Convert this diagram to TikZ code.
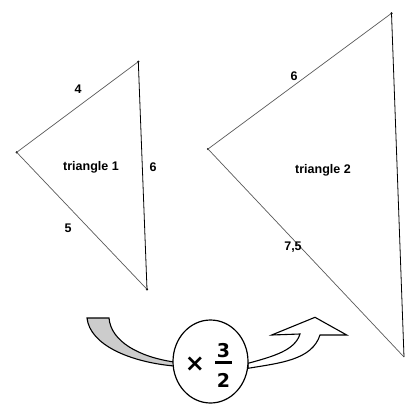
\documentclass[tikz,border=0pt]{standalone}
\usepackage{fontspec}
\usetikzlibrary{shapes.geometric}
\setmainfont{Liberation Sans}
\newfontfamily\djv{DejaVu Sans}
\begin{document}
\begin{tikzpicture}[x=1pt,y=-1pt,
  lbl/.style={inner sep=0pt,font=\fontsize{12.5}{14}\selectfont\bfseries},
  edgeg/.style={draw=black!65,line width=0.7pt},
  edgek/.style={draw=black,line width=0.8pt},
  vdot/.style={circle,fill=black,inner sep=0pt,minimum size=2.4pt},
  mathtxt/.style={inner sep=0pt,font=\djv\fontsize{19}{20}\selectfont\bfseries},
  band/.style={draw=black,line width=1.1pt,line join=miter}]
\useasboundingbox (0,0) rectangle (405,405);
% triangle 1
\node[vdot] (a1) at (138.3,61.7) {};
\node[vdot] (b1) at (16.7,152.3) {};
\node[vdot] (c1) at (147,289.3) {};
\draw[edgeg] (b1.center) -- (a1.center);
\draw[edgeg] (b1.center) -- (c1.center);
\draw[edgek] (a1.center) -- (c1.center);
\node[lbl] (l4) at (78,89) {4};
\node[lbl] (l6a) at (153,167) {6};
\node[lbl] (l5) at (68,228) {5};
\node[lbl] (t1) at (91,167) {triangle 1};
% triangle 2
\node[vdot] (a2) at (391.5,13.3) {};
\node[vdot] (b2) at (208,149) {};
\coordinate (c2) at (404,357);
\draw[edgeg] (b2.center) -- (a2.center);
\draw[edgeg] (b2.center) -- (c2);
\draw[edgek] (a2.center) -- (c2);
\node[lbl] (l6b) at (294,76) {6};
\node[lbl] (l75) at (293,247) {7,5};
\node[lbl] (t2) at (323,170) {triangle 2};
% left gray band arrow
\draw[band,fill=black!20] (87,318) -- (109,318)
  .. controls (111,342) and (140,357) .. (174,362)
  -- (174,366)
  .. controls (130,362) and (90,345) .. (87,318) -- cycle;
% right white arrow
\draw[band,fill=white] (248,363.3)
  .. controls (275,356) and (295,350) .. (300,334)
  -- (271.7,335) -- (315,317.3) -- (346.7,335) -- (320,335)
  .. controls (312,360) and (280,363) .. (248,368.3) -- cycle;
% multiplier ellipse
\node[draw=black,line width=1.2pt,fill=white,ellipse,minimum width=75pt,minimum height=83pt,inner sep=0pt] (mul) at (210.5,361.5) {};
\node[inner sep=0pt,font=\djv\fontsize{24}{26}\selectfont\bfseries] (times) at (195,364) {×};
\node[mathtxt] (num) at (223.5,351) {3};
\node[mathtxt] (den) at (223.5,380) {2};
\coordinate (barl) at (215,362.5);
\coordinate (barr) at (232,362.5);
\draw[line width=2.2pt] (barl) -- (barr);
\end{tikzpicture}
\end{document}
